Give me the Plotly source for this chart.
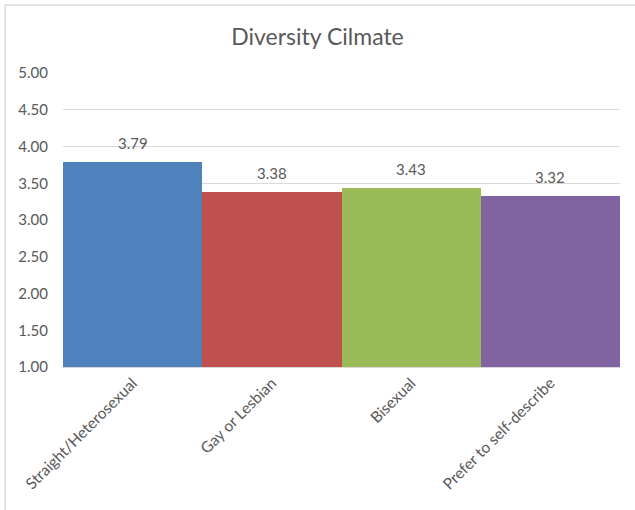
import plotly.graph_objects as go

categories = ["Straight/Heterosexual", "Gay or Lesbian", "Bisexual", "Prefer to self-describe"]
scores = [3.79, 3.38, 3.43, 3.32]
bar_colors = ["#4F81BD", "#C0504D", "#9BBB59", "#8064A2"]
y_ticks = [1.0, 1.5, 2.0, 2.5, 3.0, 3.5, 4.0, 4.5, 5.0]

text_color = "#595959"
grid_color = "#D9D9D9"
font_family = "Lato, 'Open Sans', sans-serif"

fig = go.Figure(
    go.Bar(
        x=categories,
        y=scores,
        base=0,
        marker=dict(color=bar_colors, line=dict(width=0)),
    )
)

# Value labels above each bar
for cat, val in zip(categories, scores):
    fig.add_annotation(
        x=cat, y=val, xref="x", yref="y",
        text=f"{val:.2f}", showarrow=False,
        yanchor="bottom", yshift=8,
        font=dict(size=15, color=text_color, family=font_family),
    )

# Chart-area border (top and left edges)
fig.add_shape(type="line", xref="paper", yref="paper",
              x0=-0.104, x1=1.2, y0=1.231, y1=1.231,
              line=dict(color=grid_color, width=1.5))
fig.add_shape(type="line", xref="paper", yref="paper",
              x0=-0.104, x1=-0.104, y0=1.231, y1=-0.6,
              line=dict(color=grid_color, width=1.5))

fig.update_layout(
    width=635,
    height=510,
    margin=dict(l=63, r=15, t=73, b=143),
    paper_bgcolor="white",
    plot_bgcolor="white",
    bargap=0,
    showlegend=False,
    font=dict(family=font_family, color=text_color),
    title=dict(
        text="Diversity Cilmate",
        x=0.5,
        xanchor="center",
        y=1 - 37 / 510,
        yanchor="middle",
        font=dict(size=23, color=text_color, family=font_family),
    ),
    xaxis=dict(
        tickangle=-45,
        tickfont=dict(size=15.5, color=text_color),
        showline=True,
        linecolor=grid_color,
        linewidth=1,
        ticks="",
        showgrid=False,
    ),
    yaxis=dict(
        range=[1, 5],
        tickvals=y_ticks,
        ticktext=[f"{v:.2f}" for v in y_ticks],
        tickfont=dict(size=15, color=text_color),
        showgrid=True,
        gridcolor=grid_color,
        gridwidth=1,
        zeroline=False,
        ticks="",
        ticklabelstandoff=14,
    ),
)

fig.write_html("out.html")
